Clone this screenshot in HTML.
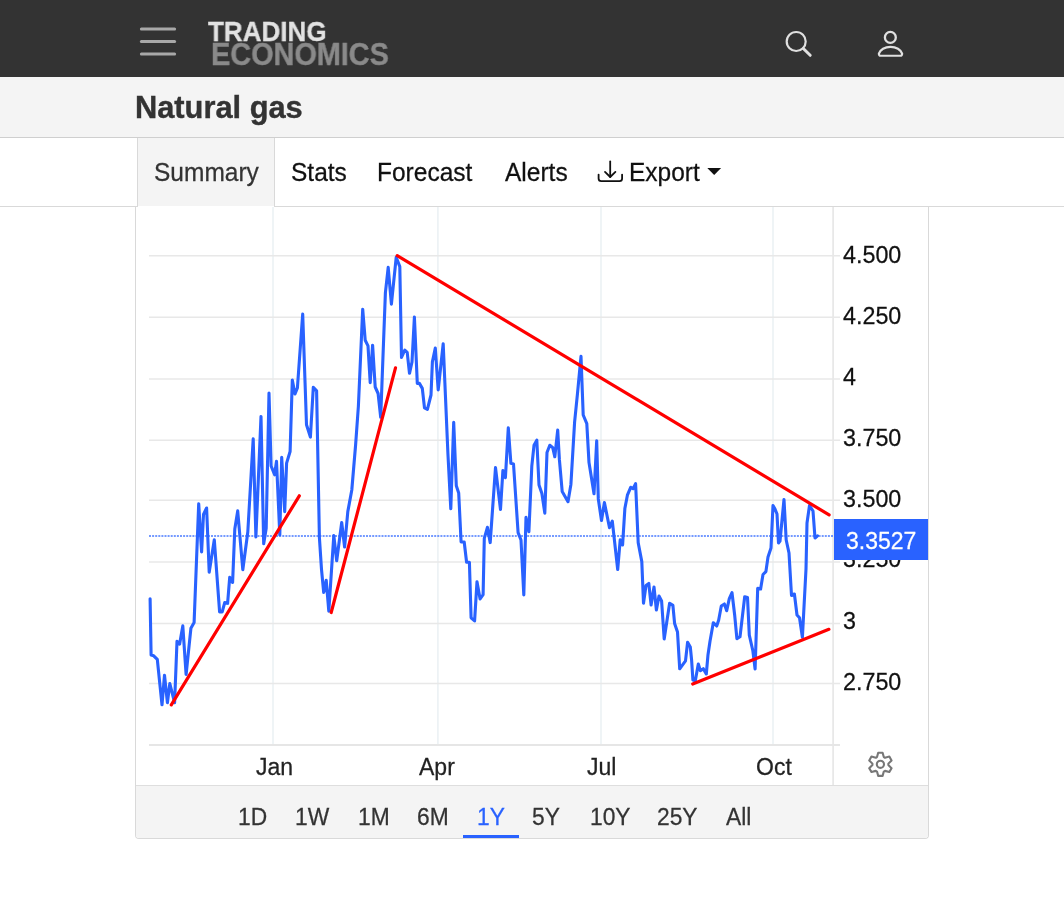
<!DOCTYPE html>
<html><head><meta charset="utf-8">
<style>
*{margin:0;padding:0;box-sizing:border-box}
html,body{width:1064px;height:901px;overflow:hidden;background:#fff;font-family:"Liberation Sans",Arial,sans-serif}
.a{position:absolute;white-space:nowrap;will-change:transform}
.s{transform:scaleY(1.04);transform-origin:0 75%;-webkit-text-stroke:0.25px currentColor}
#hdr{position:absolute;left:0;top:0;width:1064px;height:77px;background:#333}
#sub{position:absolute;left:0;top:77px;width:1064px;height:61px;background:#f4f4f4;border-bottom:1px solid #cfcfcf}
#tabs{position:absolute;left:0;top:138px;width:1064px;height:69px;border-bottom:1px solid #d9d9d9}
#sumtab{position:absolute;left:137px;top:138px;width:138px;height:69px;background:linear-gradient(#f4f4f4 0 68px,#fff 68px);border-left:1px solid #d9d9d9;border-right:1px solid #d9d9d9}
#chart{position:absolute;left:135px;top:207px;width:794px;height:632px;border:1px solid #d9d9d9;border-top:none;border-radius:0 0 4px 4px;overflow:hidden}
#range{position:absolute;left:0;top:578px;width:792px;height:53px;background:#f4f4f4;border-top:1px solid #dedede}
.tab{font-size:24.5px;color:#111;top:158.1px;line-height:30px}
.rb{font-size:22.8px;color:#333;line-height:28px;top:803px}
.xl{font-size:23px;color:#222;line-height:28px;top:753px}
.yl{font-size:23.3px;color:#111;line-height:28px}
</style></head><body>
<div id="hdr"></div>
<svg class="a" style="left:0;top:0" width="1064" height="77" viewBox="0 0 1064 77">
  <g stroke="#a8a8a8" stroke-width="3" stroke-linecap="round">
    <line x1="141.4" y1="29" x2="174.6" y2="29"/>
    <line x1="141.4" y1="41.5" x2="174.6" y2="41.5"/>
    <line x1="141.4" y1="54" x2="174.6" y2="54"/>
  </g>
  <g fill="none" stroke="#e0e0e0" stroke-width="2.2" stroke-linecap="round">
    <circle cx="796.2" cy="41.5" r="9.5"/>
    <line x1="803.3" y1="48.5" x2="810.2" y2="55.3" stroke-width="3"/>
    <circle cx="890.35" cy="37.4" r="5.45" stroke-width="2.3"/>
    <path d="M880.8 55.75 H900.2 Q902.2 55.75 902.12 53.6 A11.9 8.6 0 0 0 878.88 53.6 Q878.8 55.75 880.8 55.75 Z" stroke-linejoin="round"/>
  </g>
</svg>
<div class="a" style="left:207.5px;top:16px;font-weight:bold;font-size:28px;line-height:32px;color:#e2e2e2;transform:scaleX(0.93);transform-origin:0 0;-webkit-text-stroke:0.3px #e2e2e2">TRADING</div>
<div class="a" style="left:210.5px;top:36.7px;font-weight:bold;font-size:30.7px;line-height:36px;color:#8a8a8a;transform:scaleX(0.94);transform-origin:0 0;-webkit-text-stroke:0.4px #8a8a8a">ECONOMICS</div>

<div id="sub"></div>
<div class="a s" style="left:135px;top:90px;font-weight:bold;font-size:30.8px;line-height:36px;color:#333;-webkit-text-stroke:0.4px #333">Natural gas</div>

<div id="tabs"></div>
<div id="sumtab"></div>
<div class="a s tab" style="left:153.5px;color:#333">Summary</div>
<div class="a s tab" style="left:290.5px">Stats</div>
<div class="a s tab" style="left:377px">Forecast</div>
<div class="a s tab" style="left:504.5px">Alerts</div>
<svg class="a" style="left:590px;top:155px" width="40" height="32" viewBox="590 155 40 32">
  <g fill="none" stroke="#111" stroke-width="1.8" stroke-linecap="round" stroke-linejoin="round">
    <line x1="610.2" y1="161.4" x2="610.2" y2="176.8"/>
    <polyline points="605,171.9 610.2,177 615.4,171.9"/>
    <path d="M598.6 174.6 V178.5 Q598.6 181.1 601.2 181.1 H619.5 Q622.1 181.1 622.1 178.5 V174.6"/>
  </g>
</svg>
<div class="a s tab" style="left:629.3px">Export</div>
<svg class="a" style="left:700px;top:160px" width="30" height="20" viewBox="700 160 30 20">
  <polygon points="707.3,168 721.1,168 714.2,174.9" fill="#111"/>
</svg>

<div id="chart">
  <div id="range"></div>
</div>

<!-- chart svg in page coordinates -->
<svg class="a" style="left:0;top:0" width="1064" height="901" viewBox="0 0 1064 901">
  <g stroke="#edf2f5" stroke-width="1.7">
    <line x1="273" y1="207" x2="273" y2="744"/>
    <line x1="437.9" y1="207" x2="437.9" y2="744"/>
    <line x1="601" y1="207" x2="601" y2="744"/>
    <line x1="773" y1="207" x2="773" y2="744"/>
  </g>
  <line x1="833.1" y1="207" x2="833.1" y2="785" stroke="#e6e6e6" stroke-width="1.6"/>
  <g stroke="#e8e8e8" stroke-width="1.5">
    <line x1="149" y1="255.8" x2="840" y2="255.8"/>
    <line x1="149" y1="317.3" x2="840" y2="317.3"/>
    <line x1="149" y1="378.9" x2="840" y2="378.9"/>
    <line x1="149" y1="440.3" x2="840" y2="440.3"/>
    <line x1="149" y1="500.3" x2="840" y2="500.3"/>
    <line x1="149" y1="562" x2="840" y2="562"/>
    <line x1="149" y1="623.4" x2="840" y2="623.4"/>
    <line x1="149" y1="683.4" x2="840" y2="683.4"/>
    <line x1="149" y1="745" x2="840" y2="745" stroke-width="2" stroke="#e6e6e6"/>
  </g>
  <line x1="149" y1="536" x2="833" y2="536" stroke="#2962ff" stroke-width="1.6" stroke-dasharray="2 1.1" opacity="0.85"/>
  <g id="series" fill="none" stroke="#2962ff" stroke-width="3.1" stroke-linejoin="round" stroke-linecap="round">
    <polyline id="pl" points="150.1,598.8 151.1,655 153.7,655.8 157.3,659.4 162,704.8 164.5,675.2 167.4,702.7 169.8,683.6 174.6,702.7 177,641.3 179.6,644.2 182.8,625.9 186.1,674.5 190.9,628.3 194.1,622.6 198.7,503.7 201.6,552 203.5,514.5 206.6,508 209.2,572.3 214.3,539.8 219.6,611.9 222.2,611.9 224.7,602.6 227.6,603.3 229.7,577.3 232.6,582.4 234.8,529 237.7,510.9 242.8,569.7 247.8,532 253.2,438.8 255.9,536.9 261,416.6 263.7,543.7 266.2,528.2 269,393.1 271.1,466 274.6,474.8 276.5,461.2 279.8,535 281.7,457.3 284.7,511.7 286.6,463.1 290.1,451.5 292.3,380 295,394 297.4,388 302.7,314 306.5,424.8 310.4,437.1 313.3,387.3 316.6,390.9 319.4,537.6 321.5,569.4 323.7,592.5 326.2,580.2 328.8,611.2 333.8,535.5 336.7,560.7 341.7,522.5 344.6,547 347.8,511.6 351.8,490 355.6,445 358.4,406 362.7,309.2 365.2,340.2 368,345.9 370.2,382.7 372.6,345.2 375.2,387 378.1,393.5 380.7,417.3 385.4,292.6 388.2,267.4 391.4,304.2 396.2,257.3 399.8,266.6 401.5,357.4 404.8,350.2 407.2,352.4 409.5,373.3 412,362 414.4,317.1 417.3,383.4 419.4,383.4 422.3,388.4 424.5,407.9 427.4,409.4 431,395 432.4,361.7 435.3,348 438.2,389.9 443.2,343.7 445.4,395 447.9,453.3 450.8,508.8 453.7,422.3 456.3,485.8 458.7,493 461.1,542 464.2,542 466.6,562.2 469.4,562.2 471.1,617.8 474.6,620.9 477,581.7 480.1,598.9 483.1,594.6 484.3,538.3 487.4,527.3 490.2,542.6 495.5,467.6 500.5,509.5 502.9,470.5 505.4,477.7 508.3,427.9 510.9,463.3 513.5,464 518.1,532.6 521,540 523.8,595 526,517.4 528.9,531.8 531.8,466.2 534,445.3 536.8,440.2 539,485 541.9,493.6 544.8,513.1 547,452.5 549.8,445.3 552.8,447.8 554.8,456.8 557.7,430.1 559.4,459.7 562.2,491.6 568,501.7 570.9,484.4 574.6,422.2 577.5,393.3 581,356.3 583.2,415 586.8,423.6 589,462.6 594,493.8 596.7,440.9 598.3,498.9 601.5,520.5 604.4,502.5 609.5,527.7 612.3,521.2 617.7,569.5 620.2,539.9 622.6,545 624.9,508.2 627.4,495.2 630.7,487.3 633.1,488.7 635.6,483.7 638.2,542.8 641.8,561.6 643.5,603.3 646,585.5 648.8,583.5 651.1,605 654,587 656.4,610 659,596 661.6,601 664.2,639 669.6,603.2 672.9,605.4 674.6,623.4 677.5,632 679.7,668.8 685.5,660.9 687.6,642.2 690.3,647 691.6,660 692.9,680 695.3,680.7 698.3,664 700.4,670.7 703.3,668.7 706.3,674 708,654.7 710,641.3 713.3,622.7 716.7,626 718.7,620 721.3,606 724.4,604 726.7,610.7 729.3,598.7 732,592.7 734.7,615.3 736.9,638.7 740,636.7 744.7,596.7 747.5,597.5 749.3,635.1 752.9,651 755.1,669 757.7,588.2 760.6,589 763,574.5 765.9,571.6 768,557 771,548 773,505.5 775,509 777,514 778.5,543 780,541 784,499.5 786.2,540 789,553 791.5,595.5 794.4,594 797,615 799.5,617.8 802.4,637.3 806,569 807,523 809.5,505.5 813,511 815,538 817.5,535.8"/>
  </g>
  <g stroke="#f00" stroke-width="3.2" stroke-linecap="round">
    <line x1="171.3" y1="704.9" x2="299.3" y2="495.8"/>
    <line x1="331.2" y1="612.5" x2="395.5" y2="367.8"/>
    <line x1="397.2" y1="255.6" x2="829.1" y2="514.9"/>
    <line x1="692.7" y1="684" x2="828.9" y2="629.3"/>
  </g>
  <!-- gear -->
  <g fill="none" stroke="#777" stroke-width="2.1" stroke-linejoin="round">
    <circle cx="880.4" cy="764.3" r="3.6"/>
    <path id="gear" d="M877.00 757.06 L878.20 752.70 L882.60 752.70 L883.80 757.06 L884.97 757.73 L889.35 756.59 L891.55 760.41 L888.37 763.62 L888.37 764.98 L891.55 768.19 L889.35 772.01 L884.97 770.87 L883.80 771.54 L882.60 775.90 L878.20 775.90 L877.00 771.54 L875.83 770.87 L871.45 772.01 L869.25 768.19 L872.43 764.98 L872.43 763.62 L869.25 760.41 L871.45 756.59 L875.83 757.73 Z"/>
  </g>
</svg>
<div class="a s yl" style="left:843px;top:241px">4.500</div>
<div class="a s yl" style="left:843px;top:302px">4.250</div>
<div class="a s yl" style="left:843px;top:363px">4</div>
<div class="a s yl" style="left:843px;top:424px">3.750</div>
<div class="a s yl" style="left:843px;top:485px">3.500</div>
<div class="a s yl" style="left:843px;top:545px">3.250</div>
<div class="a" style="left:834px;top:519px;width:94px;height:41px;background:#2962ff"></div>
<div class="a s yl" style="left:843px;top:607px">3</div>
<div class="a s yl" style="left:843px;top:668px">2.750</div>
<div class="a s" style="left:845.5px;top:526.5px;font-size:23px;line-height:28px;color:#fff">3.3527</div>

<div class="a s xl" style="left:256px">Jan</div>
<div class="a s xl" style="left:419.4px">Apr</div>
<div class="a s xl" style="left:587px">Jul</div>
<div class="a s xl" style="left:756.3px">Oct</div>

<div class="a s rb" style="left:238px">1D</div>
<div class="a s rb" style="left:295px">1W</div>
<div class="a s rb" style="left:357.5px">1M</div>
<div class="a s rb" style="left:416.5px">6M</div>
<div class="a s rb" style="left:476.5px;color:#2962ff">1Y</div>
<div class="a" style="left:463px;top:835px;width:56px;height:3px;background:#2962ff"></div>
<div class="a s rb" style="left:532px">5Y</div>
<div class="a s rb" style="left:589.5px">10Y</div>
<div class="a s rb" style="left:656.5px">25Y</div>
<div class="a s rb" style="left:726px">All</div>
</body></html>
